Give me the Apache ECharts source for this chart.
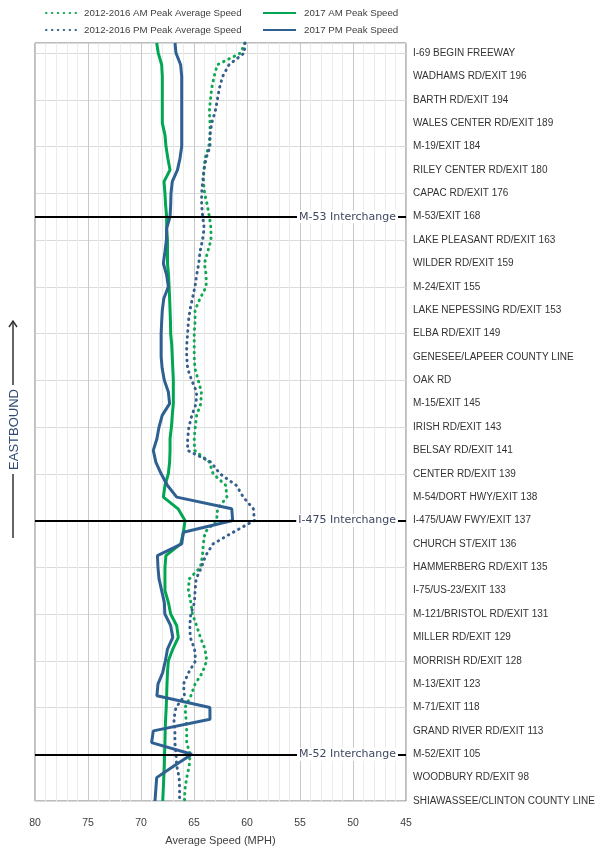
<!DOCTYPE html>
<html><head><meta charset="utf-8">
<script src="https://cdn.jsdelivr.net/npm/echarts@6/dist/echarts.min.js"></script>
<style>html,body{margin:0;padding:0;background:#fff}#c{width:600px;height:848px}</style>
</head><body><div id="c"></div>
<script>
// Locations, top (row 0) to bottom (row 32)
const locations = [
  'I-69 BEGIN FREEWAY','WADHAMS RD/EXIT 196','BARTH RD/EXIT 194','WALES CENTER RD/EXIT 189',
  'M-19/EXIT 184','RILEY CENTER RD/EXIT 180','CAPAC RD/EXIT 176','M-53/EXIT 168',
  'LAKE PLEASANT RD/EXIT 163','WILDER RD/EXIT 159','M-24/EXIT 155','LAKE NEPESSING RD/EXIT 153',
  'ELBA RD/EXIT 149','GENESEE/LAPEER COUNTY LINE','OAK RD','M-15/EXIT 145',
  'IRISH RD/EXIT 143','BELSAY RD/EXIT 141','CENTER RD/EXIT 139','M-54/DORT HWY/EXIT 138',
  'I-475/UAW FWY/EXIT 137','CHURCH ST/EXIT 136','HAMMERBERG RD/EXIT 135','I-75/US-23/EXIT 133',
  'M-121/BRISTOL RD/EXIT 131','MILLER RD/EXIT 129','MORRISH RD/EXIT 128','M-13/EXIT 123',
  'M-71/EXIT 118','GRAND RIVER RD/EXIT 113','M-52/EXIT 105','WOODBURY RD/EXIT 98',
  'SHIAWASSEE/CLINTON COUNTY LINE'
];
// sample positions along the route, in rows from the top
const rows = [-0.43, 0,0.5,1,1.5,2,2.5,3,3.5,4,4.5,5,5.5,6,6.5,7,7.5,8,
  8.5,9,9.5,10,10.5,11,11.5,12,12.5,13,13.5,14,14.5,15,15.5,16,
  16.5,17,17.5,18,18.5,19,19.5,20,20.5,21,21.5,22,22.5,23,23.5,24,
  24.5,25,25.5,26,26.5,27,27.5,28,28.5,29,29.5,30,30.5,31,31.5,32];
const amHist = [60.2, 60.6,62.8,63.1,63.33,63.45,63.55,63.49,63.49,63.6,63.96,64.06,64.12,64.0,63.75,63.55,63.4,63.4,
  63.7,64.02,63.85,63.85,64.43,64.9,64.9,64.98,64.98,64.98,64.91,64.6,64.3,64.36,64.75,64.88,
  64.98,64.95,63.55,63.2,62.0,61.9,62.78,62.86,63.96,64.12,64.2,64.4,65.45,65.53,65.3,65.15,
  64.75,64.4,63.96,63.8,64.2,64.9,65.3,65.85,65.75,65.69,65.69,65.38,65.45,65.69,65.85,65.9];
const pmHist = [60.19, 60.26,61.7,62.3,62.6,62.8,63.0,63.33,63.49,63.49,63.86,64.06,64.18,64.28,64.28,64.18,64.04,64.2,
  64.43,64.55,64.75,64.91,65.15,65.38,65.53,65.6,65.69,65.69,65.6,65.22,64.75,64.8,65.2,65.48,
  65.6,65.6,63.4,62.55,61.0,60.35,59.4,59.3,61.3,63.2,63.9,64.3,64.8,64.9,64.95,65.3,
  65.4,65.35,64.95,64.85,65.5,66.0,65.9,66.7,66.9,66.8,66.8,66.7,66.63,66.4,66.36,66.36];
const am2017 = [68.52, 68.37,68.05,67.99,67.99,67.99,67.99,67.99,67.74,67.64,67.47,67.26,67.83,67.74,67.68,67.58,67.58,67.5,
  67.5,67.5,67.4,67.35,67.3,67.26,67.22,67.2,67.1,67.05,67.0,66.95,66.95,66.95,67.05,67.13,
  67.26,67.26,67.3,67.42,67.74,67.89,66.5,65.85,66.0,66.25,67.65,67.74,67.74,67.74,67.42,67.2,
  66.63,66.48,67.0,67.42,67.5,67.55,67.58,67.62,67.68,67.72,67.74,67.78,67.8,67.85,67.9,67.95];
const pm2017 = [66.79, 66.7,66.26,66.16,66.16,66.16,66.16,66.16,66.16,66.16,66.32,66.56,67.05,67.17,67.2,67.26,67.58,67.6,
  67.74,67.89,67.58,67.42,67.85,67.99,68.05,68.1,68.1,68.1,68.0,67.8,67.42,67.3,68.0,68.3,
  68.5,68.84,68.6,68.1,67.5,66.63,61.44,61.35,66.0,66.16,68.45,68.4,68.3,68.05,67.8,67.75,
  67.2,67.0,67.5,67.7,67.95,68.4,68.5,63.5,63.49,68.84,69.0,65.2,66.9,68.52,68.6,68.68];
const interchanges = [
  {name: 'M-53 Interchange', row: 7},
  {name: 'I-475 Interchange', row: 20},
  {name: 'M-52 Interchange', row: 30}
];
const seriesNames = ['2012-2016 AM Peak Average Speed','2012-2016 PM Peak Average Speed','2017 AM Peak Speed','2017 PM Peak Speed'];

const lastRow = locations.length - 1;
const topPos = lastRow - rows[0];
const toPts = vals => vals.map((v, i) => [v, lastRow - rows[i]]);
const FONT = 'Liberation Sans';
const GREEN = '#00a651', GREEN_D = '#12a853', BLUE = '#2e6092', BLUE_D = '#365f8e';
const dotted = c => ({color: c, width: 3, type: [0.5, 5.4], cap: 'round'});
const legendBase = {orient: 'vertical', top: 8, padding: 0, itemHeight: 8, itemGap: 7,
  itemStyle: {opacity: 0},
  textStyle: {fontSize: 9.7, color: '#404040', fontFamily: FONT, padding: [0, 0, 0, 3]}};

const chart = echarts.init(document.getElementById('c'), null, {renderer: 'canvas'});
chart.setOption({
  animation: false,
  backgroundColor: '#fff',
  textStyle: {fontFamily: FONT},
  grid: {left: 35, right: 194, top: 43, bottom: 47, outerBoundsMode: 'none', containLabel: false,
    show: true, borderColor: '#7a7a7a', borderWidth: 1, backgroundColor: 'transparent'},
  legend: [
    Object.assign({data: [seriesNames[0], seriesNames[1]], left: 45, itemWidth: 30}, legendBase),
    Object.assign({data: [seriesNames[2], seriesNames[3]], left: 262, itemWidth: 33}, legendBase)
  ],
  xAxis: {
    type: 'value', inverse: true, min: 45, max: 80, interval: 5,
    name: 'Average Speed (MPH)', nameLocation: 'middle', nameGap: 34,
    nameTextStyle: {fontSize: 11, color: '#404040', fontFamily: FONT},
    axisLine: {show: false}, axisTick: {show: false},
    axisLabel: {fontSize: 10.5, color: '#404040', margin: 17, fontFamily: FONT},
    splitLine: {show: true, lineStyle: {color: '#c8c8c8', width: 1}},
    minorTick: {show: false, splitNumber: 5},
    minorSplitLine: {show: true, lineStyle: {color: '#ebebeb', width: 1}}
  },
  yAxis: [
    {type: 'value', position: 'right', min: 0, max: topPos, interval: 1,
     axisLine: {show: false}, axisTick: {show: false}, splitLine: {show: false},
     axisLabel: {margin: 7, fontSize: 10, color: '#333', fontFamily: FONT,
       formatter: v => Math.abs(v - Math.round(v)) < 1e-6 ? (locations[lastRow - Math.round(v)] || '') : ''}},
    {type: 'value', position: 'left', min: 0, max: topPos, interval: 2,
     axisLine: {show: false}, axisTick: {show: false}, axisLabel: {show: false},
     splitLine: {show: true, lineStyle: {color: '#dadada', width: 1}}}
  ],
  series: [
    {name: seriesNames[0], type: 'line', data: toPts(amHist), symbol: 'none', lineStyle: dotted(GREEN_D), itemStyle: {color: GREEN_D}, z: 2},
    {name: seriesNames[1], type: 'line', data: toPts(pmHist), symbol: 'none', lineStyle: dotted(BLUE_D), itemStyle: {color: BLUE_D}, z: 2},
    {name: seriesNames[2], type: 'line', data: toPts(am2017), symbol: 'none', lineStyle: {color: GREEN, width: 3}, itemStyle: {color: GREEN}, z: 3},
    {name: seriesNames[3], type: 'line', data: toPts(pm2017), symbol: 'none', lineStyle: {color: BLUE, width: 3}, itemStyle: {color: BLUE}, z: 4,
     markLine: {
       silent: true, symbol: 'none', animation: false,
       lineStyle: {color: '#000', width: 2, type: 'solid'},
       label: {show: true, position: 'insideStart', distance: 8, formatter: p => p.name,
         backgroundColor: '#fff', padding: [1, 2], color: '#3d4860', fontSize: 11, fontFamily: 'DejaVu Sans'},
       data: interchanges.map(d => ({name: d.name, yAxis: lastRow - d.row}))
     }}
  ],
  graphic: [
    {type: 'line', shape: {x1: 13, y1: 538, x2: 13, y2: 474}, style: {stroke: '#333', lineWidth: 1.5}},
    {type: 'line', shape: {x1: 13, y1: 385, x2: 13, y2: 321}, style: {stroke: '#333', lineWidth: 1.5}},
    {type: 'polyline', shape: {points: [[9, 327], [13, 321], [17, 327]]}, style: {stroke: '#333', lineWidth: 1.5, fill: null}},
    {type: 'text', x: 14, y: 429.5, rotation: Math.PI / 2,
     style: {text: 'EASTBOUND', fontSize: 13, fontFamily: FONT, fill: '#2f4a73', align: 'center', verticalAlign: 'middle'}}
  ]
});
</script></body></html>
